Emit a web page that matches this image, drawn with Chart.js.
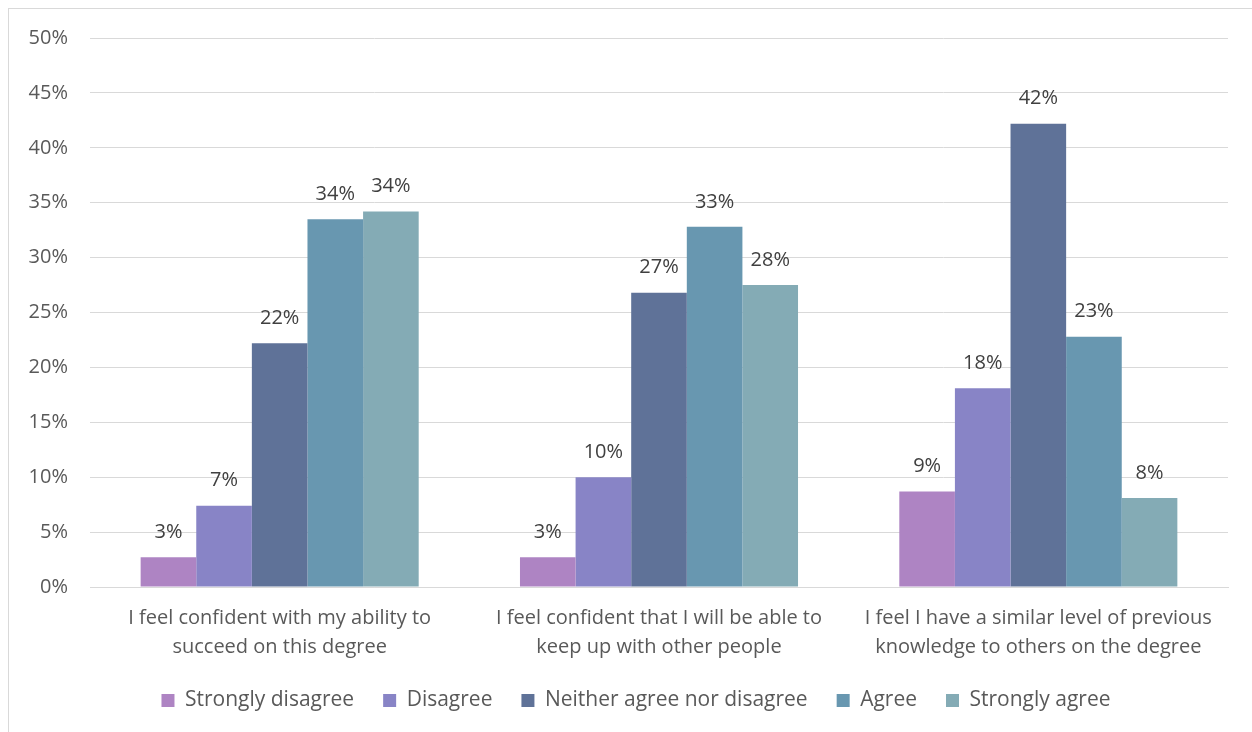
<!DOCTYPE html>
<html>
<head>
<meta charset="utf-8">
<script src="https://cdn.jsdelivr.net/npm/chart.js@4.4.0/dist/chart.umd.min.js"></script>
<style>
  html, body { margin: 0; padding: 0; background: #fff; }
  #wrap { position: absolute; left: 0; top: 0; width: 1252px; height: 732px; }
  #frame { position: absolute; left: 8px; top: 8px; width: 1260px; height: 740px; border: 1px solid #d9d9d9; box-sizing: border-box; }
  canvas { position: absolute; left: 0; top: 0; }
</style>
</head>
<body>
<div id="wrap">
  <div id="frame"></div>
  <canvas id="c" width="1252" height="732"></canvas>
</div>
<script>
const categories = [
  ["I feel confident with my ability to", "succeed on this degree"],
  ["I feel confident that I will be able to", "keep up with other people"],
  ["I feel I have a similar level of previous", "knowledge to others on the degree"]
];
const seriesNames = ["Strongly disagree", "Disagree", "Neither agree nor disagree", "Agree", "Strongly agree"];
const stronglyDisagree = [2.7, 2.7, 8.7];
const disagree = [7.4, 10.0, 18.1];
const neither = [22.2, 26.8, 42.2];
const agree = [33.5, 32.8, 22.8];
const stronglyAgree = [34.2, 27.5, 8.1];
const colors = ["#ae84c3", "#8884c6", "#5f7298", "#6897b0", "#84abb5"];
const yTicks = [0, 5, 10, 15, 20, 25, 30, 35, 40, 45, 50];

const FONT = "'Open Sans', sans-serif";
const TXT = "#595959";

const labelPlugin = {
  id: 'barLabels',
  afterLayout(chart) {
    const lg = chart.legend;
    if (lg && !lg._shifted) {
      const orig = lg.draw.bind(lg);
      lg.draw = function () {
        const ctx = chart.ctx;
        ctx.save();
        ctx.translate(22, 0);
        orig();
        ctx.restore();
      };
      lg._shifted = true;
    }
  },
  afterDatasetsDraw(chart) {
    const ctx = chart.ctx;
    ctx.save();
    ctx.font = "20px " + FONT;
    ctx.fillStyle = "#404040";
    ctx.textAlign = "center";
    ctx.textBaseline = "middle";
    chart.data.datasets.forEach((ds, i) => {
      const meta = chart.getDatasetMeta(i);
      meta.data.forEach((bar, j) => {
        ctx.fillText(Math.round(ds.data[j]) + "%", bar.x, bar.y - 25);
      });
    });
    ctx.restore();
  }
};

const allSeries = [stronglyDisagree, disagree, neither, agree, stronglyAgree];

new Chart(document.getElementById('c'), {
  type: 'bar',
  data: {
    labels: categories,
    datasets: allSeries.map((d, i) => ({
      label: seriesNames[i],
      data: d,
      backgroundColor: colors[i],
      borderWidth: 0,
      categoryPercentage: 0.733,
      barPercentage: 1.0
    }))
  },
  options: {
    responsive: false,
    animation: false,
    devicePixelRatio: 1,
    layout: { padding: { left: 0, right: 24, top: 38, bottom: 11 } },
    plugins: {
      legend: {
        position: 'bottom',
        labels: {
          boxWidth: 13, boxHeight: 13, padding: 29,
          color: TXT,
          font: { family: FONT, size: 21 }
        }
      },
      tooltip: { enabled: false }
    },
    scales: {
      x: {
        grid: { display: false, drawTicks: false },
        border: { display: true, color: "#d9d9d9", width: 1 },
        afterFit(axis) { axis.height = axis.height - 18; },
        ticks: { color: TXT, font: { family: FONT, size: 20, lineHeight: 1.45 }, padding: 17, maxRotation: 0, autoSkip: false }
      },
      y: {
        min: 0, max: 50,
        afterBuildTicks(axis) { axis.ticks = yTicks.map(v => ({ value: v })); },
        afterFit(axis) { axis.width = 90; },
        grid: { color: "#d9d9d9", lineWidth: 1, drawTicks: false },
        border: { display: false },
        ticks: { color: TXT, font: { family: FONT, size: 20 }, padding: 22, callback: v => v + "%" }
      }
    }
  },
  plugins: [labelPlugin]
});
</script>
</body>
</html>
